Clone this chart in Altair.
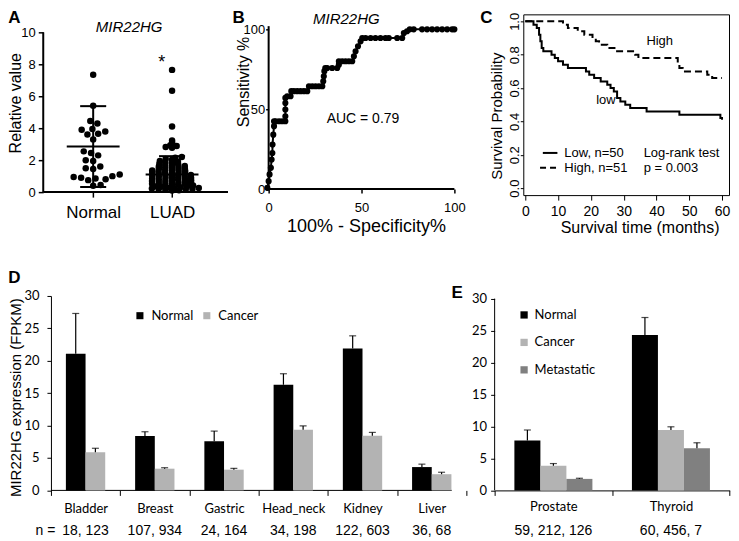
import math
import altair as alt
import pandas as pd

# ---------------- Panel A: scatter dot plot ----------------
a_groups = ["Normal", "LUAD"]
a_normal = [7.35, 5.4, 4.45, 4.3, 3.95, 3.9, 3.8, 3.65, 3.6, 3.3, 2.55, 2.45, 2.3, 2.0,
            1.95, 1.6, 1.5, 1.45, 1.1, 1.0, 0.95, 0.9, 0.85, 0.8, 0.75, 0.45, 0.4]
a_luad = [7.65, 6.35, 4.1, 3.23, 3.08, 2.94, 2.88, 2.83, 2.77,
          2.2, 2.15, 2.08, 2.02,
          1.95, 1.90, 1.86, 1.82, 1.78, 1.74, 1.70, 1.67, 1.64, 1.61,
          1.58, 1.55, 1.52, 1.49, 1.46, 1.43, 1.40, 1.37, 1.35, 1.32,
          1.29, 1.27, 1.24, 1.22, 1.19, 1.17, 1.14, 1.12, 1.09, 1.07,
          1.05, 1.02, 1.00, 0.97, 0.95, 0.93, 0.90, 0.88, 0.86, 0.83,
          0.81, 0.79, 0.76, 0.74, 0.72, 0.69, 0.67, 0.65, 0.62, 0.60,
          0.58, 0.56, 0.53, 0.51, 0.49, 0.47, 0.44, 0.42, 0.40, 0.37,
          0.35, 0.33, 0.30, 0.28, 0.26, 0.24, 0.22, 0.20, 0.18, 0.16,
          0.14, 0.12, 0.10]
a_mean = [2.85, 1.1]
a_sd_low = [0.32, 0.0]
a_sd_high = [5.38, 2.25]

# ---------------- Panel B: ROC curve ----------------
roc_fpr = [-0.7, 0.0, 0.5, 1.2, 1.6, 2.0, 2.1, 2.5, 2.9, 2.9,
           3.8, 5.6, 7.3, 9.0, 9.0, 9.0, 9.0, 9.0,
           10.0, 11.8, 12.2, 13.6, 15.4, 17.2, 19.0, 20.8,
           21.7, 23.5, 25.3, 27.1, 28.9,
           29.4, 29.7, 30.0, 30.5,
           31.5, 34.2, 36.9,
           37.8, 37.8,
           39.6, 41.4, 43.2, 45.0,
           45.9, 46.8, 48.1, 49.5, 50.4,
           52.2, 54.9, 57.5, 60.2, 62.9, 64.7,
           69.2, 71.9,
           72.8, 74.5, 76.0,
           78.1, 82.6, 85.3, 88.0, 90.7, 93.4, 96.1, 98.8, 100.0]
roc_sens = [0.8, 5.0, 9.2, 13.3, 18.5, 22.6, 27.9, 34.1, 39.4, 42.5,
            42.5, 42.5, 42.5, 42.5, 45.6, 49.8, 53.9, 57.1,
            58.1, 58.1, 61.3, 61.3, 61.3, 61.3, 61.3, 61.3,
            64.4, 64.4, 64.4, 64.4, 64.4,
            67.5, 70.6, 73.8, 75.8,
            75.8, 75.8, 75.8,
            77.9, 80.0,
            80.0, 80.0, 80.0, 80.0,
            83.1, 86.3, 89.4, 92.5, 94.6,
            94.6, 94.6, 94.6, 94.6, 94.6, 94.6,
            94.6, 94.6,
            97.7, 98.8, 100.0,
            100.0, 100.0, 100.0, 100.0, 100.0, 100.0, 100.0, 100.0, 100.0]

# ---------------- Panel C: Kaplan-Meier ----------------
low_t = [0, 2.5, 3.5, 4.2, 4.6, 5.0, 5.5, 8.0, 9.0, 10.0, 11.5, 13.0, 18.5, 19.5, 21.0,
         23.0, 25.0, 26.0, 27.0, 28.0, 29.0, 30.5, 32.0, 37.0, 47.0, 59.5, 60]
low_s = [1.0, 0.98, 0.96, 0.92, 0.88, 0.84, 0.82, 0.80, 0.78, 0.76, 0.74, 0.72, 0.70, 0.68, 0.66,
         0.64, 0.62, 0.60, 0.58, 0.54, 0.52, 0.50, 0.48, 0.46, 0.44, 0.42, 0.41]
high_t = [0, 11.5, 13.0, 16.0, 18.0, 20.5, 21.5, 22.5, 25.0, 28.0, 33.5, 34.5, 46.5, 47.0,
          48.0, 55.5, 57.0, 60]
high_s = [1.0, 0.98, 0.96, 0.94, 0.92, 0.90, 0.88, 0.86, 0.84, 0.82, 0.80, 0.78, 0.74, 0.72,
          0.70, 0.68, 0.66, 0.66]

# ---------------- Panel D: TCGA bars ----------------
d_tissues = ["Bladder", "Breast", "Gastric", "Head_neck", "Kidney", "Liver"]
d_normal = [21.1, 8.4, 7.6, 16.3, 21.9, 3.6]
d_normal_err = [6.2, 0.65, 1.55, 1.7, 1.95, 0.45]
d_cancer = [5.9, 3.35, 3.2, 9.35, 8.45, 2.5]
d_cancer_err = [0.6, 0.15, 0.2, 0.6, 0.5, 0.3]
d_n = ["18, 123", "107, 934", "24, 164", "34, 198", "122, 603", "36, 68"]

# ---------------- Panel E ----------------
e_tissues = ["Prostate", "Thyroid"]
e_normal = [7.8, 24.3]
e_normal_err = [1.65, 2.75]
e_cancer = [3.85, 9.45]
e_cancer_err = [0.35, 0.5]
e_meta = [1.8, 6.6]
e_meta_err = [0.1, 0.85]
e_n = ["59, 212, 126", "60, 456, 7"]

FA = "Liberation Sans"
FL = "Lato"


def txt(s, x, y, size, font=FA, angle=0, align="center", baseline="middle",
        weight="normal", style="normal"):
    kw = dict(font=font, fontSize=size, align=align, baseline=baseline,
              fontWeight=weight, fontStyle=style, color="black")
    if angle:
        kw["angle"] = angle
    return alt.Chart(pd.DataFrame({"t": [s]})).mark_text(**kw).encode(
        text="t:N", x=alt.value(x), y=alt.value(y))


def swarm(vals, ypx, diam, k):
    order = sorted(range(len(vals)), key=lambda i: vals[i])
    placed = []
    off = [0.0] * len(vals)
    for n, i in enumerate(order):
        y = vals[i] * ypx * k
        ivs = []
        for (px, py) in placed:
            dy = abs(py - y)
            if dy < diam:
                w = math.sqrt(diam * diam - dy * dy)
                ivs.append((px - w, px + w))
        cands = [0.0] + [a for a, b in ivs] + [b for a, b in ivs]
        ok = [c for c in cands if all(not (a + 1e-7 < c < b - 1e-7) for a, b in ivs)]
        sgn = 1 if n % 2 else -1
        best = min(ok, key=lambda c: (round(abs(c), 4), -sgn * c))
        placed.append((best, y))
        off[i] = best
    return off


LET = -4  # panel letter offset above the plot (top row)
one = pd.DataFrame({"k": [0]})

# ================= Panel A =================
A_W, A_H = 177.3, 178
A_SHIFT = 7.7          # A's axes sit left of the shared column origin
a_xpu = 79.0
a_ypu = 16.0
offN = swarm(a_normal, a_ypu, 7.5, 1.0)
offL = swarm(a_luad, a_ypu, 7.0, 3.0)
a_pts = pd.DataFrame({
    "x": [1 + o / a_xpu for o in offN] + [2 + o / a_xpu for o in offL],
    "y": a_normal + a_luad,
})
xA = alt.X("x:Q", scale=alt.Scale(domain=[0.4646, 2.709], nice=False, zero=False),
           axis=alt.Axis(values=[1, 2], labelExpr="datum.value == 1 ? 'Normal' : 'LUAD'",
                         title=None, domain=False, tickSize=5, tickWidth=1.5,
                         labelFont=FA, labelFontSize=17, labelPadding=7, labelOverlap=False))
yA = alt.Y("y:Q", scale=alt.Scale(domain=[0, 11.125], nice=False, zero=False),
           axis=alt.Axis(values=[0, 2, 4, 6, 8, 10], title=None, domain=False, tickSize=5,
                         tickWidth=1.5, labelFont=FA, labelFontSize=13, labelPadding=3,
                         offset=A_SHIFT, labelOverlap=False))
a_centers = [1, 2]
mean_df = pd.DataFrame({"x": [c - 0.335 for c in a_centers],
                        "x2": [c + 0.335 for c in a_centers], "y": a_mean})
cap_df = pd.DataFrame({"x": [1 - 0.165, 1 - 0.165, 2 - 0.165],
                       "x2": [1 + 0.165, 1 + 0.165, 2 + 0.165],
                       "y": [a_sd_low[0], a_sd_high[0], a_sd_high[1]]})
vert_df = pd.DataFrame({"x": a_centers, "y": a_sd_low, "y2": a_sd_high})
a_xline = pd.DataFrame({"x": [0.367], "x2": [2.709], "y": [0.0]})
a_yline = pd.DataFrame({"x": [0.367], "y": [0.0], "y2": [10.0]})
a_star = pd.DataFrame({"x": [1.87], "y": [8.06], "t": ["*"]})

A = alt.layer(
    alt.Chart(a_pts).mark_circle(size=42, color="black", opacity=1).encode(x=xA, y=yA),
    alt.Chart(vert_df).mark_rule(color="black", strokeWidth=2).encode(x=xA, y=yA, y2="y2:Q"),
    alt.Chart(mean_df).mark_rule(color="black", strokeWidth=2).encode(x=xA, x2="x2:Q", y=yA),
    alt.Chart(cap_df).mark_rule(color="black", strokeWidth=2).encode(x=xA, x2="x2:Q", y=yA),
    alt.Chart(a_xline).mark_rule(color="black", strokeWidth=2).encode(x=xA, x2="x2:Q", y=yA),
    alt.Chart(a_yline).mark_rule(color="black", strokeWidth=2).encode(x=xA, y=yA, y2="y2:Q"),
    alt.Chart(a_star).mark_text(font=FA, fontSize=18, color="black").encode(
        text="t:N", x=xA, y=yA),
    txt("MIR22HG", 78.3, 13, 15, style="italic"),
    txt("Relative value", -34.7, 89, 16, angle=270),
    txt("A", -42.7, LET, 17, align="left", baseline="top", weight="bold"),
).properties(width=A_W, height=A_H)

# ================= Panel B =================
B_W, B_H = 215, 175
roc_df = pd.DataFrame({"x": roc_fpr, "y": roc_sens, "i": list(range(len(roc_fpr)))})
xB = alt.X("x:Q", scale=alt.Scale(domain=[0, 115.59], nice=False, zero=False),
           axis=alt.Axis(values=[0, 50, 100], title=None, domain=False, tickSize=4,
                         tickWidth=1.5, labelFont=FA, labelFontSize=13, labelPadding=8,
                         labelOverlap=False))
yB = alt.Y("y:Q", scale=alt.Scale(domain=[0, 109.375], nice=False, zero=False),
           axis=alt.Axis(values=[0, 50, 100], title=None, domain=False, tickSize=3,
                         tickWidth=1.5, labelFont=FA, labelFontSize=13, labelPadding=1,
                         labelOverlap=False))
b_xline = pd.DataFrame({"x": [0.0], "x2": [100.0], "y": [0.0]})
b_yline = pd.DataFrame({"x": [0.0], "y": [0.0], "y2": [102.0]})
b_auc = pd.DataFrame({"x": [50.8], "y": [43.6], "t": ["AUC = 0.79"]})
B = alt.layer(
    alt.Chart(b_xline).mark_rule(color="black", strokeWidth=2).encode(x=xB, x2="x2:Q", y=yB),
    alt.Chart(b_yline).mark_rule(color="black", strokeWidth=2).encode(x=xB, y=yB, y2="y2:Q"),
    alt.Chart(roc_df).mark_line(color="black", strokeWidth=2).encode(x=xB, y=yB, order="i:Q"),
    alt.Chart(roc_df).mark_circle(size=38, color="black", opacity=1).encode(x=xB, y=yB),
    alt.Chart(b_auc).mark_text(font=FA, fontSize=14, color="black").encode(text="t:N", x=xB, y=yB),
    txt("MIR22HG", 77.8, 4.3, 15, style="italic"),
    txt("Sensitivity %", -24.7, 67.7, 16, angle=270),
    txt("100% - Specificity%", 98, 213, 18),
    txt("B", -36.3, LET, 17, align="left", baseline="top", weight="bold"),
).properties(width=B_W, height=B_H)

# ================= Panel C =================
C_W, C_H = 206, 181
low_df = pd.DataFrame({"t": low_t, "s": low_s})
high_df = pd.DataFrame({"t": high_t, "s": high_s})
xC = alt.X("t:Q", scale=alt.Scale(domain=[-0.609, 62.13], nice=False, zero=False),
           axis=alt.Axis(values=[0, 10, 20, 30, 40, 50, 60], title=None, domain=False,
                         tickSize=5, labelFont=FA, labelFontSize=14, labelPadding=4,
                         labelOverlap=False))
yC = alt.Y("s:Q", scale=alt.Scale(domain=[-0.0419, 1.0419], nice=False, zero=False),
           axis=alt.Axis(values=[0, 0.2, 0.4, 0.6, 0.8, 1.0], format=".1f", title=None,
                         domain=False, tickSize=3, labelAngle=270, labelAlign="center",
                         labelBaseline="bottom", labelFont=FA, labelFontSize=13,
                         labelPadding=-1, labelOverlap=False))
c_legline = pd.DataFrame({"t": [5.35], "t2": [9.8], "s": [0.211]})
c_legdash = pd.DataFrame({"t": [4.5], "t2": [9.8], "s": [0.122]})
c_notes_left = pd.DataFrame({"t": [11.9, 11.9, 36.1, 36.1], "s": [0.211, 0.122, 0.211, 0.122],
                             "lbl": ["Low, n=50", "High, n=51", "Log-rank test", "p = 0.003"]})
c_notes_mid = pd.DataFrame({"t": [41.0, 24.6], "s": [0.88, 0.527], "lbl": ["High", "low"]})

C = alt.layer(
    alt.Chart(low_df).mark_line(interpolate="step-after", color="black", strokeWidth=2).encode(x=xC, y=yC),
    alt.Chart(high_df).mark_line(interpolate="step-after", color="black", strokeWidth=2,
                                 strokeDash=[7, 4]).encode(x=xC, y=yC),
    alt.Chart(c_legline).mark_rule(color="black", strokeWidth=2).encode(x=xC, x2="t2:Q", y=yC),
    alt.Chart(c_legdash).mark_rule(color="black", strokeWidth=2, strokeDash=[6, 4]).encode(
        x=xC, x2="t2:Q", y=yC),
    alt.Chart(c_notes_left).mark_text(font=FA, fontSize=13, color="black", align="left").encode(
        text="lbl:N", x=xC, y=yC),
    alt.Chart(c_notes_mid).mark_text(font=FA, fontSize=13, color="black", align="center").encode(
        text="lbl:N", x=xC, y=yC),
    txt("Survival Probability", -26, 102, 15, angle=270),
    txt("Survival time (months)", 117, 214, 16),
    txt("C", -43, LET, 17, align="left", baseline="top", weight="bold"),
).properties(width=C_W, height=C_H,
             view=alt.ViewBackground(stroke="black", strokeWidth=1))

# ================= Panel D =================
D_W, D_H = 416, 194.7
d_rows = []
for i, t in enumerate(d_tissues):
    d_rows.append({"tissue": t, "grp": "Normal", "val": d_normal[i], "top": d_normal[i] + d_normal_err[i]})
    d_rows.append({"tissue": t, "grp": "Cancer", "val": d_cancer[i], "top": d_cancer[i] + d_cancer_err[i]})
d_df = pd.DataFrame(d_rows)
d_cap = pd.DataFrame({"tissue": d_df["tissue"], "grp": d_df["grp"], "val": d_df["top"]})
d_ndf = pd.DataFrame({"tissue": d_tissues, "n": d_n})

N_Y = 235

xD = alt.X("tissue:N", sort=d_tissues, scale=alt.Scale(paddingInner=0, paddingOuter=0),
           axis=alt.Axis(title=None, labelAngle=0, tickBand="extent", tickSize=5, domain=False,
                         labelFont=FL, labelFontSize=13, labelPadding=7, labelOverlap=False))
xoD = alt.XOffset("grp:N", sort=["Normal", "Cancer"],
                  scale=alt.Scale(paddingInner=0, paddingOuter=0.76))
yD = alt.Y("val:Q", scale=alt.Scale(domain=[0, 30], nice=False),
           axis=alt.Axis(values=[0, 5, 10, 15, 20, 25, 30], title=None, tickSize=4,
                         labelFont=FL, labelFontSize=13, labelPadding=8, labelOverlap=False))
D = alt.layer(
    alt.Chart(one).mark_rule(color="black", strokeWidth=1).encode(
        x=alt.value(0), x2=alt.value(401.3), y=alt.value(D_H)),
    alt.Chart(d_df).mark_bar().encode(
        x=xD, xOffset=xoD, y=yD,
        color=alt.Color("grp:N", scale=alt.Scale(domain=["Normal", "Cancer"], range=["#000000", "#b3b3b3"]),
                        legend=alt.Legend(orient="none", legendX=82.6, legendY=13, direction="horizontal",
                                          title=None, symbolType="square", symbolSize=50,
                                          symbolStrokeWidth=0, labelFont=FL, labelFontSize=13,
                                          labelColor="black", columnPadding=6, labelOffset=5,
                                          padding=0))),
    alt.Chart(d_df).mark_rule(color="black", strokeWidth=1.2).encode(x=xD, xOffset=xoD, y=yD, y2="top:Q"),
    alt.Chart(d_cap).mark_tick(color="black", thickness=1.2, size=7).encode(x=xD, xOffset=xoD, y=yD),
    alt.Chart(d_ndf).mark_text(font=FA, fontSize=14, color="black").encode(
        x=xD, y=alt.value(N_Y), text="n:N"),
    txt("n =", 4.5, N_Y, 14, align="right"),
    txt("MIR22HG expression (FPKM)", -35.2, 101.8, 15, angle=270),
    txt("D", -42.7, -26, 17, align="left", baseline="top", weight="bold"),
).properties(width=D_W, height=D_H)

# ================= Panel E =================
E_W, E_H = 235.4, 194.7
e_rows = []
for i, t in enumerate(e_tissues):
    e_rows.append({"tissueE": t, "grpE": "Normal", "valE": e_normal[i], "top": e_normal[i] + e_normal_err[i]})
    e_rows.append({"tissueE": t, "grpE": "Cancer", "valE": e_cancer[i], "top": e_cancer[i] + e_cancer_err[i]})
    e_rows.append({"tissueE": t, "grpE": "Metastatic", "valE": e_meta[i], "top": e_meta[i] + e_meta_err[i]})
e_df = pd.DataFrame(e_rows)
e_cap = pd.DataFrame({"tissueE": e_df["tissueE"], "grpE": e_df["grpE"], "valE": e_df["top"]})
e_ndf = pd.DataFrame({"tissueE": e_tissues, "n": e_n})
e_order = ["Normal", "Cancer", "Metastatic"]
e_yline = pd.DataFrame({"valE": [0.0], "v2": [30.0]})

xE = alt.X("tissueE:N", sort=e_tissues, scale=alt.Scale(paddingInner=0, paddingOuter=0),
           axis=alt.Axis(title=None, labelAngle=0, tickBand="extent", tickSize=5,
                         labelFont=FL, labelFontSize=13, labelPadding=5, labelOverlap=False))
xoE = alt.XOffset("grpE:N", sort=e_order, scale=alt.Scale(paddingInner=0, paddingOuter=0.76))
yE = alt.Y("valE:Q", scale=alt.Scale(domain=[0, 30.42], nice=False),
           axis=alt.Axis(values=[0, 5, 10, 15, 20, 25, 30], title=None, domain=False, tickSize=4,
                         labelFont=FL, labelFontSize=13, labelPadding=4, labelOverlap=False))
E = alt.layer(
    alt.Chart(e_yline).mark_rule(color="black", strokeWidth=1).encode(
        x=alt.value(0), y=yE, y2="v2:Q"),
    alt.Chart(e_df).mark_bar().encode(
        x=xE, xOffset=xoE, y=yE,
        color=alt.Color("grpE:N", scale=alt.Scale(domain=e_order, range=["#000000", "#b3b3b3", "#808080"]),
                        legend=alt.Legend(orient="none", legendX=23, legendY=12.5, direction="vertical",
                                          title=None, symbolType="square", symbolSize=53,
                                          symbolStrokeWidth=0, labelFont=FL, labelFontSize=13,
                                          labelColor="black", rowPadding=13.5, labelOffset=4,
                                          padding=0))),
    alt.Chart(e_df).mark_rule(color="black", strokeWidth=1.2).encode(x=xE, xOffset=xoE, y=yE, y2="top:Q"),
    alt.Chart(e_cap).mark_tick(color="black", thickness=1.2, size=7).encode(x=xE, xOffset=xoE, y=yE),
    alt.Chart(e_ndf).mark_text(font=FA, fontSize=14, color="black").encode(
        x=xE, y=alt.value(N_Y), text="n:N"),
    txt("E", -43.3, -11.3, 17, align="left", baseline="top", weight="bold"),
).properties(width=E_W, height=E_H)

row1 = alt.hconcat(A, B, C, spacing=40, bounds="flush")
row2 = alt.hconcat(D, E, spacing=28.3, bounds="flush").resolve_scale(
    color="independent", xOffset="independent", x="independent", y="independent")

chart = alt.vconcat(row1, row2, spacing=32).properties(padding=0).configure_view(
    stroke=None).configure_axis(domainColor="black", tickColor="black", labelColor="black",
                                titleColor="black", grid=False, labelOverlap=False,
                                labelFlush=False)

chart.save("out.html", embed_options={"renderer": "svg", "actions": False})
